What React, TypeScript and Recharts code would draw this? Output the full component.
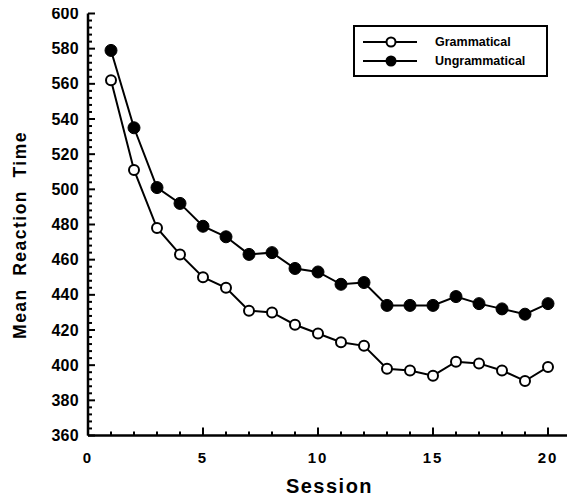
import { LineChart, Line, XAxis, YAxis, Legend } from "recharts";

const sessions = [1, 2, 3, 4, 5, 6, 7, 8, 9, 10, 11, 12, 13, 14, 15, 16, 17, 18, 19, 20];
const grammatical = [562, 511, 478, 463, 450, 444, 431, 430, 423, 418, 413, 411, 398, 397, 394, 402, 401, 397, 391, 399];
const ungrammatical = [579, 535, 501, 492, 479, 473, 463, 464, 455, 453, 446, 447, 434, 434, 434, 439, 435, 432, 429, 435];
const yMajorTicks = [360, 380, 400, 420, 440, 460, 480, 500, 520, 540, 560, 580, 600];
const xMajorTicks = [0, 5, 10, 15, 20];

const data = sessions.map((s, i) => ({
  session: s,
  grammatical: grammatical[i],
  ungrammatical: ungrammatical[i],
}));

// minor ticks every 4 units on y, every session on x
const yTicks = yMajorTicks.flatMap((t, i) =>
  i === yMajorTicks.length - 1 ? [t] : [t, t + 4, t + 8, t + 12, t + 16]
);
const xTicks = Array.from({ length: 21 }, (_, i) => i);

const FONT = "'Liberation Sans', Arial, sans-serif";

const LeftTick = (props: any) => {
  const { x, y, payload } = props;
  const major = yMajorTicks.includes(payload.value);
  return (
    <g>
      <line x1={x} x2={x + (major ? 7 : 4)} y1={y} y2={y} stroke="#000" strokeWidth={2} />
      {major && (
        <text x={x - 9} y={y} dy={5.5} textAnchor="end" fontSize={16} fontWeight="bold" fontFamily={FONT} letterSpacing={0.3} fill="#000">
          {payload.value}
        </text>
      )}
    </g>
  );
};

const RightTick = (props: any) => {
  const { x, y, payload } = props;
  const major = yMajorTicks.includes(payload.value);
  return <line x1={x} x2={x - (major ? 7 : 4)} y1={y} y2={y} stroke="#000" strokeWidth={2} />;
};

const BottomTick = (props: any) => {
  const { x, y, payload } = props;
  const major = xMajorTicks.includes(payload.value);
  return (
    <g>
      <line x1={x} x2={x} y1={y} y2={y - (major ? 8 : 4)} stroke="#000" strokeWidth={2} />
      {major && (
        <text x={x} y={y + 27} textAnchor="middle" fontSize={15} fontWeight="bold" fontFamily={FONT} letterSpacing={2} fill="#000">
          {payload.value}
        </text>
      )}
    </g>
  );
};

const OpenDot = (props: any) => {
  const { cx, cy } = props;
  return <circle cx={cx} cy={cy} r={5} fill="#fff" stroke="#000" strokeWidth={2} />;
};

const FilledDot = (props: any) => {
  const { cx, cy } = props;
  return <circle cx={cx} cy={cy} r={6} fill="#000" stroke="#000" strokeWidth={1} />;
};

const LegendBox = () => (
  <div
    style={{
      border: "2px solid #000",
      width: 195,
      height: 52,
      boxSizing: "border-box",
      background: "#fff",
    }}
  >
    <svg width={191} height={48} style={{ display: "block" }}>
      <line x1={8} x2={62} y1={15} y2={15} stroke="#000" strokeWidth={2} />
      <circle cx={36} cy={15} r={4.5} fill="#fff" stroke="#000" strokeWidth={2} />
      <text x={80} y={19} fontSize={12.5} fontWeight="bold" fontFamily={FONT}>Grammatical</text>
      <line x1={8} x2={62} y1={34} y2={34} stroke="#000" strokeWidth={2} />
      <circle cx={36} cy={34} r={5.5} fill="#000" />
      <text x={80} y={38} fontSize={12.5} fontWeight="bold" fontFamily={FONT}>Ungrammatical</text>
    </svg>
  </div>
);

export default function App() {
  return (
    <div style={{ marginLeft: -8, marginTop: -8 }}>
      <LineChart width={575} height={495} data={data} margin={{ top: 13.5, right: 4, bottom: 0, left: 0 }}>
        <XAxis
          type="number"
          dataKey="session"
          domain={[0, 21]}
          ticks={xTicks}
          interval={0}
          tick={<BottomTick />}
          tickLine={false}
          tickSize={0}
          tickMargin={0}
          height={59.5}
          axisLine={{ stroke: "#000", strokeWidth: 2.5 }}
          label={{
            content: (p: any) => (
              <text
                x={p.viewBox.x + p.viewBox.width / 2}
                y={p.viewBox.y + 57}
                textAnchor="middle"
                fontSize={20}
                fontWeight="bold"
                fontFamily={FONT}
                letterSpacing={1.5}
              >
                Session
              </text>
            ),
          }}
        />
        <XAxis xAxisId="top" orientation="top" type="number" domain={[0, 21]} tick={false} tickLine={false} height={0} axisLine={{ stroke: "#000", strokeWidth: 2.5 }} />
        <YAxis
          yAxisId="left"
          type="number"
          domain={[360, 600]}
          ticks={yTicks}
          interval={0}
          tick={<LeftTick />}
          tickLine={false}
          tickSize={0}
          tickMargin={0}
          width={88}
          axisLine={{ stroke: "#000", strokeWidth: 2.5 }}
          label={{
            content: () => {
              const cx = 26;
              const cy = 235;
              return (
                <text
                  x={cx}
                  y={cy}
                  transform={`rotate(-90, ${cx}, ${cy})`}
                  textAnchor="middle"
                  fontSize={17.5}
                  fontWeight="bold"
                  fontFamily={FONT}
                  letterSpacing={1.5}
                  wordSpacing={6}
                >
                  Mean Reaction Time
                </text>
              );
            },
          }}
        />
        <YAxis
          yAxisId="right"
          orientation="right"
          type="number"
          domain={[360, 600]}
          ticks={yTicks}
          interval={0}
          tick={<RightTick />}
          tickLine={false}
          tickSize={0}
          tickMargin={0}
          width={0}
          axisLine={{ stroke: "#000", strokeWidth: 2.5 }}
        />
        <Legend
          layout="horizontal"
          align="center"
          verticalAlign="middle"
          content={<LegendBox />}
          wrapperStyle={{ position: "absolute", left: 353, top: 25, width: 195, height: 52 }}
        />
        <Line
          yAxisId="left"
          dataKey="grammatical"
          name="Grammatical"
          stroke="#000"
          strokeWidth={2}
          dot={<OpenDot />}
          activeDot={false}
          isAnimationActive={false}
        />
        <Line
          yAxisId="left"
          dataKey="ungrammatical"
          name="Ungrammatical"
          stroke="#000"
          strokeWidth={2}
          dot={<FilledDot />}
          activeDot={false}
          isAnimationActive={false}
        />
      </LineChart>
    </div>
  );
}
